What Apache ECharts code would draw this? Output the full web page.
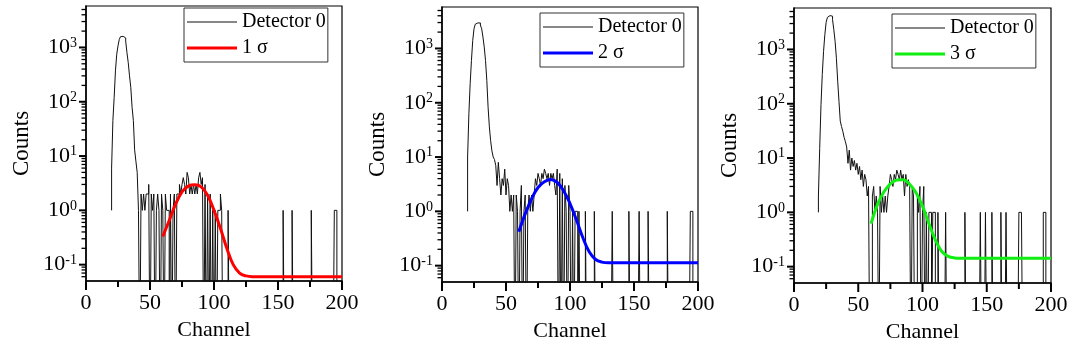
<!DOCTYPE html>
<html>
<head>
<meta charset="utf-8">
<script src="https://cdn.jsdelivr.net/npm/echarts@6/dist/echarts.min.js"></script>
<style>
  html, body { margin: 0; background: #fff; }
  #chart { width: 1078px; height: 354px; }
</style>
</head>
<body>
<div id="chart"></div>
<script>
const font = '"Times New Roman", "Liberation Serif", serif'

// axis ticks
const xTicks = [0, 50, 100, 150, 200]
const xMinorTicks = [25, 75, 125, 175]
const yTicks = [0.1, 1, 10, 100, 1000]
const minorMantissa = [2, 3, 4, 5, 6, 7, 8, 9]
const minorDecades = [-2, -1, 0, 1, 2, 3]

const histName = 'Detector 0'
const fitNames = ['1 σ', '2 σ', '3 σ']
const fitColors = ['#ff0000', '#0000ff', '#11ee11']

// histogram counts, one value per channel from the start channel
const start1 = 20
const counts1 = [
  1, 6, 45, 120, 370, 750, 1070, 1410, 1580, 1600, 1600, 1500, 1310, 800, 525, 300, 182, 79, 45, 13, 8, 5, 1,
  0, 2, 1, 2, 1, 2, 2, 3, 0, 2,
  1, 2, 0, 1, 2, 1, 0, 2, 1, 0,
  2, 1, 1, 0, 2, 0, 1, 2, 0, 2,
  2, 3, 2, 3, 4, 3, 2, 5, 4, 2,
  3, 2, 3, 2, 3, 2, 4, 5, 3, 4,
  0, 3, 0, 2, 0, 2, 0, 1, 0, 1,
  0, 1, 1, 2, 1, 0, 0, 0, 0, 1,
  0, 0, 0
]
const tail1 = [155, 162, 177, 195, 196]

const start2 = 20
const counts2 = [
  1, 10, 63, 225, 600, 1400, 2300, 2800, 2950, 3000, 2950, 2700, 2300, 1620, 1060, 600, 260, 83, 36, 20, 13, 10, 9,
  7, 3, 8, 4, 2, 4, 3, 6, 2, 4,
  3, 1, 2, 1, 2, 0, 2, 1, 0, 1,
  3, 0, 1, 2, 0, 1, 2, 1, 2, 1,
  2, 4, 3, 5, 4, 3, 5, 4, 6, 5,
  4, 5, 3, 5, 4, 5, 3, 2, 6, 0,
  5, 0, 4, 0, 3, 1, 0, 3, 1, 0,
  1, 0, 1, 1, 0, 1, 0, 0, 0, 0,
  1, 0, 0
]
const tail2 = [120, 134, 147, 155, 162, 177, 195, 196]

const start3 = 19
const counts3 = [
  1, 2, 15, 96, 345, 920, 1870, 3160, 3900, 4200, 4250, 4100, 3520, 2300, 1400, 690, 260, 111, 48, 38, 31, 24, 20, 16,
  8, 14, 6, 10, 7, 9, 6, 8, 5, 7,
  4, 6, 3, 5, 4, 2, 3, 0, 0, 2,
  3, 1, 2, 1, 0, 3, 1, 2, 1, 2,
  1, 2, 3, 5, 4, 3, 5, 4, 6, 5,
  4, 6, 4, 5, 2, 5, 3, 4, 3, 0,
  3, 2, 0, 0, 2, 1, 3, 0, 1, 3,
  0, 1, 0, 1, 1, 0, 1, 1, 0, 0,
  1, 0, 0
]
const tail3 = [119, 134, 146, 150, 155, 162, 166, 176, 177, 178, 195, 196]

// fitted curves
const fitX = [60, 65, 70, 75, 80, 85, 90, 95, 100, 105, 110, 115, 120, 125, 130, 140, 150, 160, 170, 180, 190, 200]
const fit1 = [0.33, 0.65, 1.3, 2.2, 2.8, 2.95, 2.7, 1.9, 1.0, 0.47, 0.2, 0.1, 0.07, 0.062, 0.06, 0.06, 0.06, 0.06, 0.06, 0.06, 0.06, 0.06]
const fit2 = [0.42, 0.9, 1.7, 2.75, 3.5, 3.85, 3.4, 2.4, 1.39, 0.7, 0.33, 0.18, 0.13, 0.116, 0.113, 0.113, 0.113, 0.113, 0.113, 0.113, 0.113, 0.113]
const fit3 = [0.62, 1.4, 2.4, 3.35, 3.95, 4.0, 3.3, 2.3, 1.3, 0.62, 0.31, 0.19, 0.155, 0.145, 0.143, 0.143, 0.143, 0.143, 0.143, 0.143, 0.143, 0.143]

const panels = [
  { start: start1, counts: counts1, tail: tail1, fit: fit1 },
  { start: start2, counts: counts2, tail: tail2, fit: fit2 },
  { start: start3, counts: counts3, tail: tail3, fit: fit3 },
]

const yMin = 0.05
const yMax = 5800

const grids = [
  { left: 86, top: 6, width: 256, height: 275 },
  { left: 442, top: 7, width: 256, height: 275 },
  { left: 794, top: 8, width: 257, height: 275 },
]
const legendPos = [
  { left: 184, top: 8 },
  { left: 540, top: 13 },
  { left: 892, top: 14 },
]

const histData = p => {
  const out = []
  for (let ch = p.start; ch <= 200; ch++) {
    const i = ch - p.start
    let c = i < p.counts.length ? p.counts[i] : (p.tail.includes(ch) ? 1 : 0)
    // empty channels fall below the log axis and get clipped
    out.push([ch, c > 0 ? c : 0.001])
  }
  return out
}

const minorTicks = []
minorDecades.forEach(d => minorMantissa.forEach(m => {
  const v = +(m * Math.pow(10, d)).toPrecision(6)
  if (v > yMin && v < yMax) minorTicks.push(v)
}))

const isPow10 = v => Math.abs(Math.log10(v) - Math.round(Math.log10(v))) < 1e-6

const chart = echarts.init(document.getElementById('chart'))

const option = {
  animation: false,
  textStyle: { fontFamily: font, color: '#000' },
  grid: grids.map(g => ({
    ...g,
    show: true,
    borderColor: '#000',
    borderWidth: 1.2,
    backgroundColor: 'transparent',
  })),
  legend: legendPos.map((pos, i) => ({
    ...pos,
    orient: 'vertical',
    data: [
      { name: histName, icon: 'path://M0,0h50v1h-50z' },
      { name: fitNames[i], icon: 'path://M0,0h50v3h-50z' },
    ],
    itemWidth: 50,
    itemHeight: 14,
    itemGap: 6,
    padding: [4, 2, 4, 3],
    borderColor: '#333',
    borderWidth: 1,
    borderRadius: 0,
    selectedMode: false,
    textStyle: { fontFamily: font, fontSize: 20, color: '#000' },
  })),
  xAxis: grids.map((g, i) => ({
    type: 'value',
    gridIndex: i,
    min: xTicks[0],
    max: xTicks[xTicks.length - 1],
    interval: 50,
    name: 'Channel',
    nameLocation: 'middle',
    nameGap: 36,
    nameTextStyle: { fontFamily: font, fontSize: 22, color: '#000' },
    axisLine: { show: true, lineStyle: { color: '#000', width: 1.5 } },
    axisTick: { show: false },
    splitLine: { show: false },
    axisLabel: { fontFamily: font, fontSize: 22, color: '#000', margin: 11 },
  })),
  yAxis: grids.map((g, i) => ({
    type: 'log',
    gridIndex: i,
    logBase: 10,
    min: yMin,
    max: yMax,
    name: 'Counts',
    nameLocation: 'middle',
    nameGap: 53,
    nameTextStyle: { fontFamily: font, fontSize: 23, color: '#000' },
    axisLine: { show: true, lineStyle: { color: '#000', width: 1.5 } },
    axisTick: { show: false },
    splitLine: { show: false },
    axisLabel: {
      margin: 9,
      showMinLabel: false,
      showMaxLabel: false,
      formatter: v => isPow10(v) ? '{b|10}{s|' + Math.round(Math.log10(v)) + '}' : '',
      rich: {
        b: { fontFamily: font, fontSize: 22, color: '#000' },
        s: { fontFamily: font, fontSize: 14, color: '#000', verticalAlign: 'top', padding: [0, 0, 9, 0] },
      },
    },
  })),
  series: [],
}

panels.forEach((p, i) => {
  option.series.push({
    name: histName,
    type: 'line',
    xAxisIndex: i,
    yAxisIndex: i,
    step: 'start',
    symbol: 'none',
    data: histData(p),
    lineStyle: { color: '#111', width: 1 },
    itemStyle: { color: '#111' },
    clip: true,
    z: 2,
  })
  option.series.push({
    name: fitNames[i],
    type: 'line',
    xAxisIndex: i,
    yAxisIndex: i,
    smooth: 0.4,
    symbol: 'none',
    data: fitX.map((x, k) => [x, p.fit[k]]),
    lineStyle: { color: fitColors[i], width: 3 },
    itemStyle: { color: fitColors[i] },
    z: 3,
  })
})

chart.setOption(option)

// outward tick marks, placed through each axis' own scale
const tickLine = (x1, y1, x2, y2, w) => ({
  type: 'line',
  silent: true,
  z: 100,
  shape: { x1, y1, x2, y2 },
  style: { stroke: '#000', lineWidth: w },
})

const marks = []
grids.forEach((g, i) => {
  const axisX = chart.convertToPixel({ xAxisIndex: i }, xTicks[0])
  const axisY = chart.convertToPixel({ yAxisIndex: i }, yMin)
  xTicks.forEach(v => {
    const x = chart.convertToPixel({ xAxisIndex: i }, v)
    marks.push(tickLine(x, axisY, x, axisY + 9, 2))
  })
  xMinorTicks.forEach(v => {
    const x = chart.convertToPixel({ xAxisIndex: i }, v)
    marks.push(tickLine(x, axisY, x, axisY + 6, 2))
  })
  yTicks.forEach(v => {
    const y = chart.convertToPixel({ yAxisIndex: i }, v)
    marks.push(tickLine(axisX - 7, y, axisX, y, 2))
  })
  minorTicks.forEach(v => {
    const y = chart.convertToPixel({ yAxisIndex: i }, v)
    marks.push(tickLine(axisX - 4.5, y, axisX, y, 1.3))
  })
})

chart.setOption({ graphic: { elements: marks } })
</script>
</body>
</html>
